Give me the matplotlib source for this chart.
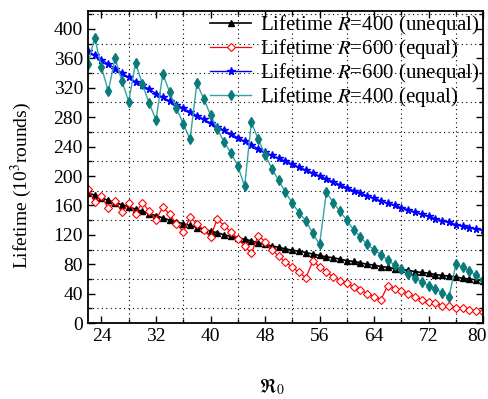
import numpy as np
import matplotlib
matplotlib.use("Agg")
import matplotlib.pyplot as plt
import matplotlib.transforms as mtransforms
from matplotlib.ticker import MultipleLocator

plt.rcParams['font.family'] = ['Liberation Serif', 'DejaVu Serif']
plt.rcParams['mathtext.fontset'] = 'stix'

x = list(range(22, 81))

# Lifetime R=400 (unequal)
life_400_uneq = [177, 174, 170, 167, 164, 161, 158, 155, 152, 149, 146, 143, 140, 138, 135,
                 133, 130, 128, 125, 123, 120, 118, 116, 114, 112, 109, 107, 105, 103, 101,
                 99, 98, 96, 94, 92, 90, 89, 87, 85, 84, 82, 80, 79, 77, 76,
                 74, 73, 72, 70, 69, 68, 66, 65, 64, 63, 61, 60, 59, 58]

# Lifetime R=600 (equal)
life_600_eq = [183, 165, 173, 156, 166, 151, 163, 149, 164, 152, 140, 158, 148, 135, 124,
               144, 135, 127, 117, 142, 132, 124, 115, 105, 95, 119, 111, 100, 91, 83,
               76, 69, 62, 84, 77, 70, 63, 58, 54, 49, 45, 40, 36, 32, 51,
               47, 44, 39, 36, 32, 29, 27, 24, 23, 21, 20, 18, 17, 15]

# Lifetime R=600 (unequal)
life_600_uneq = [370, 364, 358, 352, 346, 340, 334, 328, 323, 318, 312, 307, 302, 297, 292,
                 287, 282, 277, 272, 267, 262, 257, 252, 247, 242, 237, 232, 228, 224, 220,
                 216, 212, 208, 204, 200, 196, 192, 188, 184, 180, 177, 173, 170, 166, 163,
                 160, 157, 154, 151, 148, 145, 142, 139, 137, 134, 132, 130, 128, 126]

# Lifetime R=400 (equal)
life_400_eq = [352, 388, 348, 315, 360, 329, 301, 354, 325, 299, 276, 339, 314, 292, 271,
               250, 326, 305, 283, 264, 246, 231, 214, 186, 273, 250, 229, 210, 194, 178,
               163, 150, 139, 122, 107, 178, 164, 152, 140, 127, 117, 107, 100, 93, 86,
               79, 73, 67, 62, 56, 51, 47, 41, 36, 80, 76, 71, 65, 59]

fig = plt.figure(figsize=(4.88, 3.99), dpi=100)
ax = fig.add_axes([0.180, 0.190, 0.810, 0.782])

ax.plot(x, life_400_uneq, color='black', lw=1.2, marker='^', ms=4.5,
        mfc='black', mec='black', label=r'Lifetime $R$=400 (unequal)')
ax.plot(x, life_600_eq, color='red', lw=0.9, marker='D', ms=4,
        mfc='white', mec='red', mew=0.8, label=r'Lifetime $R$=600 (equal)')
ax.plot(x, life_600_uneq, color='blue', lw=1.0, marker='*', ms=5.5,
        mfc='blue', mec='blue', label=r'Lifetime $R$=600 (unequal)')
ax.plot(x, life_400_eq, color='#35a3a3', lw=1.0, marker='d', ms=5,
        mfc='#0b7a7a', mec='#0b7a7a', label=r'Lifetime $R$=400 (equal)')

ax.set_xlim(22, 80)
ax.set_ylim(0, 424)
ax.set_xticks([24, 32, 40, 48, 56, 64, 72, 80])
ax.set_xticks([28, 36, 44, 52, 60, 68, 76], minor=True)
ax.yaxis.set_major_locator(MultipleLocator(40))
ax.set_yticks(range(20, 424, 40), minor=True)
ax.grid(which='minor', linestyle=(0, (1, 3)), color='black', linewidth=0.8)
ax.tick_params(which='both', direction='in', top=True, right=True, labelsize=14)
ax.tick_params(which='major', length=5, width=1)
ax.tick_params(which='minor', length=3, width=1)
for s in ax.spines.values():
    s.set_linewidth(1.3)

# keep the last x tick label inside the figure
last = ax.get_xticklabels()[-1]
last.set_transform(last.get_transform() +
                   mtransforms.ScaledTranslation(-6 / 100, 0, fig.dpi_scale_trans))

ax.set_ylabel(r'Lifetime (10$^3$rounds)', fontsize=14)
ax.yaxis.set_label_coords(-0.135, 0.44)
ax.set_xlabel(r'$\mathfrak{R}_0$', fontsize=14)
ax.xaxis.set_label_coords(0.466, -0.17)

ax.legend(loc='upper right', bbox_to_anchor=(1.0, 1.007), frameon=False, fontsize=15,
          labelspacing=0.0, handletextpad=0.4, handlelength=2.0, borderaxespad=0.0,
          borderpad=0.2)

fig.savefig('out.png', dpi=100)
